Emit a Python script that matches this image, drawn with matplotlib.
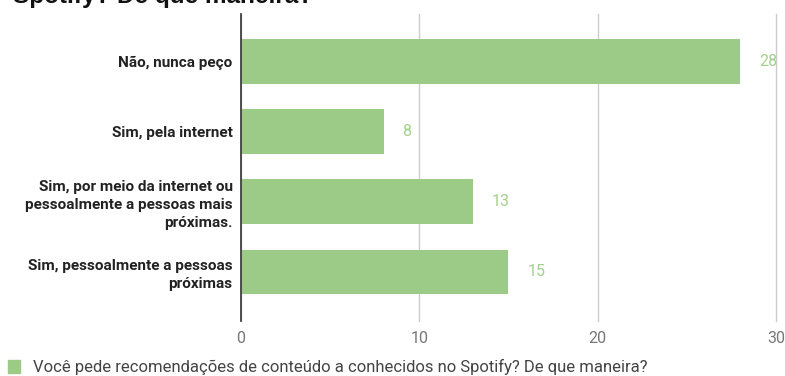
import matplotlib.pyplot as plt
from matplotlib.patches import Rectangle

plt.rcParams['font.family'] = ['Roboto', 'DejaVu Sans']

categories = ["Não, nunca peço", "Sim, pela internet",
              "Sim, por meio da internet ou\npessoalmente a pessoas mais\npróximas.",
              "Sim, pessoalmente a pessoas\npróximas"]
values = [28, 8, 13, 15]
xticks = [0, 10, 20, 30]
title = "Spotify? De que maneira?"
legend_label = "Você pede recomendações de conteúdo a conhecidos no Spotify? De que maneira?"

bar_color = '#9bcb87'

fig = plt.figure(figsize=(7.85, 3.76), dpi=100)
ax = fig.add_axes([0.307, 1 - 321 / 376, 0.6815, (321 - 14) / 376])

y = list(range(len(categories)))
ax.barh(y, values, height=0.64, color=bar_color, zorder=3)
for yi, v in zip(y, values):
    ax.text(v + 1.05, yi, str(v), color='#a3d18c', fontsize=11.5, va='center', ha='left')

ax.set_xlim(0, 30)
ax.set_ylim(3.7, -0.68)
ax.set_xticks(xticks)
ax.set_xticklabels([str(t) for t in xticks], color='#777777', fontsize=11.5)
ax.set_yticks(y)
ax.set_yticklabels(categories, fontweight='bold', fontsize=11, color='#222222',
                   linespacing=1.35)
ax.tick_params(axis='x', length=0, pad=7)
ax.tick_params(axis='y', length=0, pad=6)
ax.grid(axis='x', color='#cccccc', linewidth=1, zorder=0)
for line in ax.get_xgridlines():
    line.set_clip_on(False)
for s in ['top', 'right', 'bottom']:
    ax.spines[s].set_visible(False)
ax.spines['left'].set_color('#333333')
ax.spines['left'].set_linewidth(1.2)
ax.spines['left'].set_zorder(4)

fig.text(13 / 785, 1 - 3 / 376, title, fontsize=17.5, fontweight='bold', color='#111111',
         va='baseline', ha='left', family=['Liberation Sans', 'DejaVu Sans'])

fig.patches.append(Rectangle((8 / 785, 1 - 373 / 376), 12 / 785, 13 / 376,
                             transform=fig.transFigure, color=bar_color))
fig.text(33 / 785, 1 - 367 / 376, legend_label, fontsize=12, color='#444444',
         va='center', ha='left')

fig.savefig('out.png', dpi=100)
